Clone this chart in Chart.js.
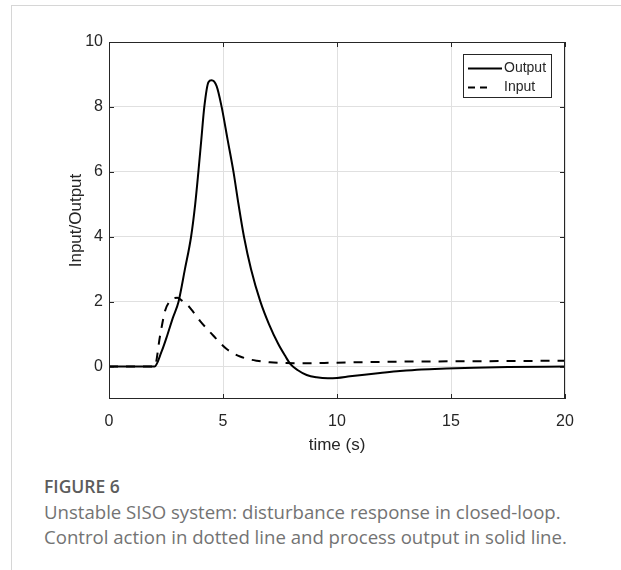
<!DOCTYPE html>
<html>
<head>
<meta charset="utf-8">
<script src="https://cdn.jsdelivr.net/npm/chart.js@4"></script>
<style>
  body { margin: 0; background: #fff; width: 621px; height: 570px; overflow: hidden; position: relative; }
  .frame { position: absolute; left: 11px; top: 5px; right: 0; bottom: 0; border-left: 1px solid #d6d6d6; border-top: 1px solid #d6d6d6; }
  .chart-box { position: absolute; left: 0; top: 0; width: 621px; height: 460px; }
  .caption { position: absolute; left: 44px; top: 474px; font-family: "Open Sans", sans-serif; color: #737373; white-space: nowrap; }
  .caption h4 { margin: 0; font-size: 17.5px; line-height: 25px; font-weight: 600; color: #5c5c5c; }
  .caption p { margin: 0; font-size: 18.6px; line-height: 25px; }
</style>
</head>
<body>
<div class="frame"></div>
<div class="chart-box"><canvas id="chart"></canvas></div>
<div class="caption">
  <h4>FIGURE 6</h4>
  <p>Unstable SISO system: disturbance response in closed-loop.<br>Control action in dotted line and process output in solid line.</p>
</div>
<script>
const xTicks = [0, 5, 10, 15, 20]
const yTicks = [0, 2, 4, 6, 8, 10]

// process output (solid)
const outputTime = [0, 2, 2.3, 2.55, 2.8, 3.05, 3.33, 3.6, 3.78, 3.92, 4.05, 4.18, 4.36, 4.5, 4.72, 4.94, 5.2, 5.46, 5.68, 5.92, 6.23, 6.64, 7.02, 7.42, 7.75, 7.95, 8.25, 8.67, 9.1, 9.6, 10.0, 10.57, 11.2, 11.89, 12.76, 13.7, 14.8, 16, 17.5, 20]
const outputValues = [0, 0, 0.45, 0.95, 1.5, 2.0, 3.0, 4.0, 5.0, 6.0, 7.0, 8.0, 8.76, 8.82, 8.64, 8.0, 7.0, 6.0, 5.0, 4.0, 3.0, 2.0, 1.3, 0.7, 0.3, 0.08, -0.1, -0.26, -0.33, -0.36, -0.35, -0.30, -0.25, -0.2, -0.14, -0.09, -0.06, -0.035, -0.015, 0]

// control action (dashed)
const inputTime = [0, 2, 2.24, 2.46, 2.65, 2.82, 3.0, 3.2, 3.41, 3.7, 3.99, 4.3, 4.58, 4.87, 5.16, 5.45, 5.75, 6.1, 6.48, 7.06, 7.7, 8.38, 10, 12.5, 15, 17.5, 20]
const inputValues = [0, 0, 0.95, 1.72, 2.0, 2.1, 2.12, 2.03, 1.92, 1.68, 1.41, 1.16, 0.95, 0.73, 0.54, 0.41, 0.31, 0.23, 0.18, 0.13, 0.11, 0.10, 0.12, 0.15, 0.16, 0.17, 0.18]

const toPoints = (ts, vs) => ts.map((t, i) => ({ x: t, y: vs[i] }))

const axisColor = '#262626'
const fontFamily = '"Liberation Sans", Arial, sans-serif'

Chart.defaults.font.family = fontFamily
Chart.defaults.font.size = 16
Chart.defaults.color = axisColor

// MATLAB style box with inward ticks, drawn over the lines
const boxAxes = {
    id: 'boxAxes',
    afterDatasetsDraw(chart) {
        const { ctx, chartArea: a, scales } = chart
        const len = 5
        ctx.save()
        ctx.strokeStyle = axisColor
        ctx.lineWidth = 1
        ctx.strokeRect(a.left + 0.5, a.top + 0.5, a.right - a.left - 1, a.bottom - a.top - 1)
        ctx.beginPath()
        xTicks.forEach(v => {
            const x = Math.round(scales.x.getPixelForValue(v)) + 0.5
            ctx.moveTo(x, a.bottom); ctx.lineTo(x, a.bottom - len)
            ctx.moveTo(x, a.top); ctx.lineTo(x, a.top + len)
        })
        yTicks.forEach(v => {
            const y = Math.round(scales.y.getPixelForValue(v)) + 0.5
            ctx.moveTo(a.left, y); ctx.lineTo(a.left + len, y)
            ctx.moveTo(a.right, y); ctx.lineTo(a.right - len, y)
        })
        ctx.stroke()
        ctx.restore()
    }
}

// legend box in the top right corner
const legendBox = {
    id: 'legendBox',
    afterDraw(chart) {
        const { ctx, chartArea: a } = chart
        const w = 89, h = 44
        const left = a.right - 13 - w, top = a.top + 12
        ctx.save()
        ctx.fillStyle = '#fff'
        ctx.fillRect(left, top, w, h)
        ctx.strokeStyle = axisColor
        ctx.lineWidth = 1
        ctx.strokeRect(left + 0.5, top + 0.5, w - 1, h - 1)
        ctx.font = '14px ' + fontFamily
        ctx.textBaseline = 'middle'
        ctx.fillStyle = axisColor
        chart.data.datasets.forEach((ds, i) => {
            const y = top + 14.5 + i * 19
            const dashed = ds.borderDash && ds.borderDash.length
            ctx.beginPath()
            ctx.strokeStyle = ds.borderColor
            ctx.lineWidth = ds.borderWidth
            ctx.setLineDash(dashed ? [7, 5] : [])
            ctx.moveTo(left + 5, y)
            ctx.lineTo(left + (dashed ? 25 : 39), y)
            ctx.stroke()
            ctx.setLineDash([])
            ctx.fillText(ds.label, left + 41, y)
        })
        ctx.restore()
    }
}

const config = {
    type: 'scatter',
    data: {
        datasets: [
            {
                label: 'Output',
                data: toPoints(outputTime, outputValues),
                borderColor: '#000',
                borderWidth: 2,
                showLine: true,
                pointRadius: 0,
                cubicInterpolationMode: 'monotone',
                fill: false
            },
            {
                label: 'Input',
                data: toPoints(inputTime, inputValues),
                borderColor: '#000',
                borderWidth: 2,
                borderDash: [9, 8],
                showLine: true,
                pointRadius: 0,
                cubicInterpolationMode: 'monotone',
                fill: false
            }
        ]
    },
    options: {
        responsive: true,
        maintainAspectRatio: false,
        animation: false,
        layout: { padding: { top: 42, right: 56, left: 0, bottom: 0 } },
        plugins: {
            legend: { display: false },
            tooltip: { enabled: false }
        },
        scales: {
            x: {
                type: 'linear',
                min: 0,
                max: 20,
                afterBuildTicks: axis => { axis.ticks = xTicks.map(v => ({ value: v })) },
                afterFit: axis => { axis.height = 61 },
                grid: { color: '#e0e0e0', drawTicks: false },
                border: { display: false },
                ticks: { color: axisColor, font: { size: 16 }, padding: 13, maxRotation: 0 },
                title: { display: true, text: 'time (s)', color: axisColor, font: { size: 17 }, padding: { bottom: 4, top: 0 } }
            },
            y: {
                type: 'linear',
                min: -1,
                max: 10,
                afterBuildTicks: axis => { axis.ticks = yTicks.map(v => ({ value: v })) },
                afterFit: axis => { axis.width = 109 },
                grid: { color: '#e0e0e0', drawTicks: false },
                border: { display: false },
                ticks: { color: axisColor, font: { size: 16 }, padding: 6 },
                title: { display: true, text: 'Input/Output', color: axisColor, font: { size: 17 }, padding: { top: 66, bottom: 0 } }
            }
        }
    },
    plugins: [boxAxes, legendBox]
}

new Chart(document.getElementById('chart'), config)
</script>
</body>
</html>
